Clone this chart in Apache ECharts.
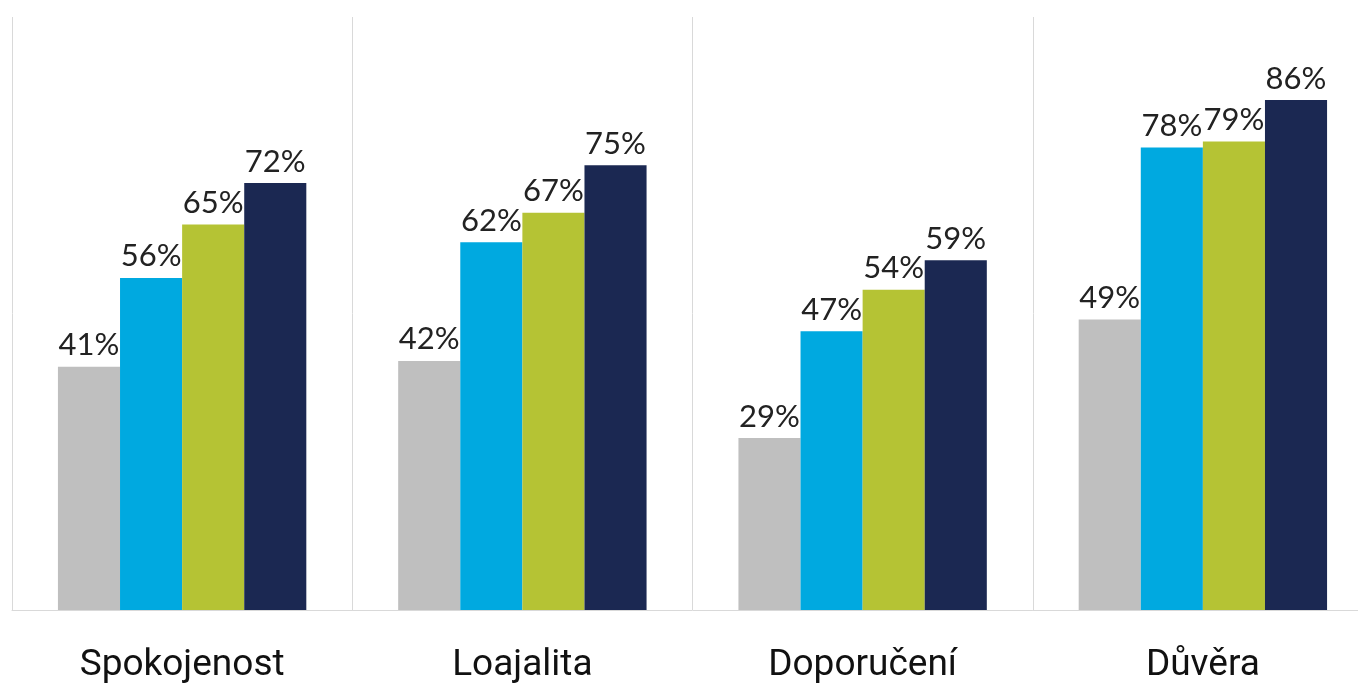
<!DOCTYPE html>
<html>
<head>
<meta charset="utf-8">
<script src="https://cdn.jsdelivr.net/npm/echarts@6/dist/echarts.min.js"></script>
<style>
  html, body { margin: 0; padding: 0; background: #fff; overflow: hidden; }
  /* chart is a bit wider than the window: the right edge is cut off like in the picture */
  #chart { width: 1373px; height: 684px; }
</style>
</head>
<body>
<div id="chart"></div>
<script>
// data
const categories = ['Spokojenost', 'Loajalita', 'Doporučení', 'Důvěra'];
const series1 = [41, 42, 29, 49];
const series2 = [56, 62, 47, 78];
const series3 = [65, 67, 54, 79];
const series4 = [72, 75, 59, 86];
const colors = ['#bfbfbf', '#00a9e0', '#b5c334', '#1b2852'];

let chart = echarts.init(document.getElementById('chart'));

const labelStyle = {
    show: true,
    position: 'top',
    distance: 6,
    formatter: '{c}%',
    color: '#222',
    fontFamily: 'Lato',
    fontSize: 31
};

function makeSeries (data, i) {
    return {
        type: 'bar',
        data: data,
        barGap: 0,
        barCategoryGap: '27%',
        itemStyle: { color: colors[i] },
        label: labelStyle
    };
}

chart.setOption({
    animation: false,
    grid: { left: 12, right: 0, top: 17, bottom: 74 },
    xAxis: {
        type: 'category',
        data: categories,
        axisLine: { lineStyle: { color: '#d9d9d9', width: 1 } },
        axisTick: { show: false },
        splitLine: { show: true, interval: 0, lineStyle: { color: '#d9d9d9', width: 1 } },
        axisLabel: {
            interval: 0,
            margin: 37,
            color: '#111',
            fontFamily: 'Roboto',
            fontSize: 37
        }
    },
    yAxis: {
        type: 'value',
        min: 0,
        max: 100,
        show: false,
        splitLine: { show: false }
    },
    series: [
        makeSeries(series1, 0),
        makeSeries(series2, 1),
        makeSeries(series3, 2),
        makeSeries(series4, 3)
    ]
});
</script>
</body>
</html>
